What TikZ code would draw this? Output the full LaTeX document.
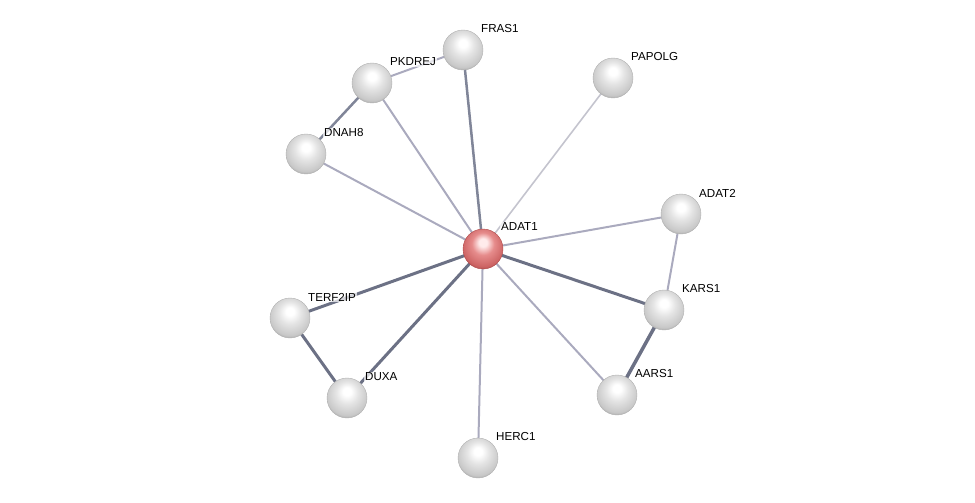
\documentclass[tikz,border=0pt]{standalone}
\usepackage{fontspec}
\setmainfont{Liberation Sans}
\usetikzlibrary{calc}
\definecolor{sphA}{RGB}{255,255,255}
\definecolor{sphB}{RGB}{228,228,228}
\definecolor{sphC}{RGB}{200,200,200}
\definecolor{sphD}{RGB}{145,145,145}
\definecolor{redA}{RGB}{255,235,235}
\definecolor{redB}{RGB}{230,140,140}
\definecolor{redC}{RGB}{205,100,100}
\definecolor{redD}{RGB}{150,60,60}
\pgfdeclareradialshading{graysphere}{\pgfqpoint{0bp}{9bp}}{color(0bp)=(sphA); color(5bp)=(sphA); color(14bp)=(sphB); color(26bp)=(sphC); color(33bp)=(sphD); color(50bp)=(sphD)}
\pgfdeclareradialshading{redsphere}{\pgfqpoint{0bp}{9bp}}{color(0bp)=(redA); color(5bp)=(redA); color(14bp)=(redB); color(26bp)=(redC); color(33bp)=(redD); color(50bp)=(redD)}
\begin{document}
\begin{tikzpicture}[x=1pt,y=-1pt,
  prot/.style={circle,minimum size=40pt,inner sep=0pt,shading=graysphere,draw=gray!60,line width=0.4pt},
  seed/.style={circle,minimum size=40pt,inner sep=0pt,shading=redsphere,draw=red!40!gray,line width=0.4pt},
  lbl/.style={anchor=west,font=\fontsize{11.6}{13}\selectfont,inner sep=1pt,fill=white,fill opacity=0.7,text opacity=1},
  strong/.style={draw={rgb,255:red,108;green,113;blue,133},line width=3pt},
  medium/.style={draw={rgb,255:red,128;green,133;blue,152},line width=2.5pt},
  weak/.style={draw={rgb,255:red,170;green,170;blue,190},line width=2pt},
  faint/.style={draw={rgb,255:red,196;green,196;blue,206},line width=1.6pt}]
\useasboundingbox (0,0) rectangle (975,503);
\coordinate (cADAT1) at (483,249);
\coordinate (cFRAS1) at (463,50);
\coordinate (cPKDREJ) at (372,83);
\coordinate (cDNAH8) at (306,154);
\coordinate (cPAPOLG) at (613,78);
\coordinate (cADAT2) at (681,214);
\coordinate (cKARS1) at (664,310);
\coordinate (cAARS1) at (617,395);
\coordinate (cHERC1) at (478,458);
\coordinate (cDUXA) at (347,398);
\coordinate (cTERF2IP) at (290,318);
% edges
\draw[weak] (cPKDREJ) -- (cFRAS1);
\draw[medium] (cPKDREJ) -- (cDNAH8);
\draw[weak] (cADAT1) -- (cPKDREJ);
\draw[weak] (cADAT1) -- (cDNAH8);
\draw[medium] (cADAT1) -- (cFRAS1);
\draw[faint] (cADAT1) -- (cPAPOLG);
\draw[weak] (cADAT1) -- (cADAT2);
\draw[strong] (cADAT1) -- (cKARS1);
\draw[weak] (cADAT1) -- (cAARS1);
\draw[weak] (cADAT1) -- (cHERC1);
\draw[strong] (cADAT1) -- (cDUXA);
\draw[strong] (cADAT1) -- (cTERF2IP);
\draw[weak] (cADAT2) -- (cKARS1);
\draw[strong,line width=3.5pt] (cKARS1) -- (cAARS1);
\draw[strong] (cTERF2IP) -- (cDUXA);
% nodes
\node[seed] (ADAT1) at (cADAT1) {};
\foreach \n in {FRAS1,PKDREJ,DNAH8,PAPOLG,ADAT2,KARS1,AARS1,HERC1,DUXA,TERF2IP}
  \node[prot] (\n) at (c\n) {};
% labels
\node[lbl] (lADAT1) at ($(cADAT1)+(17,-22)$) {ADAT1};
\foreach \n in {FRAS1,PKDREJ,DNAH8,PAPOLG,ADAT2,KARS1,AARS1,HERC1,DUXA,TERF2IP}
  \node[lbl] (l\n) at ($(c\n)+(17,-21)$) {\n};
\end{tikzpicture}
\end{document}
